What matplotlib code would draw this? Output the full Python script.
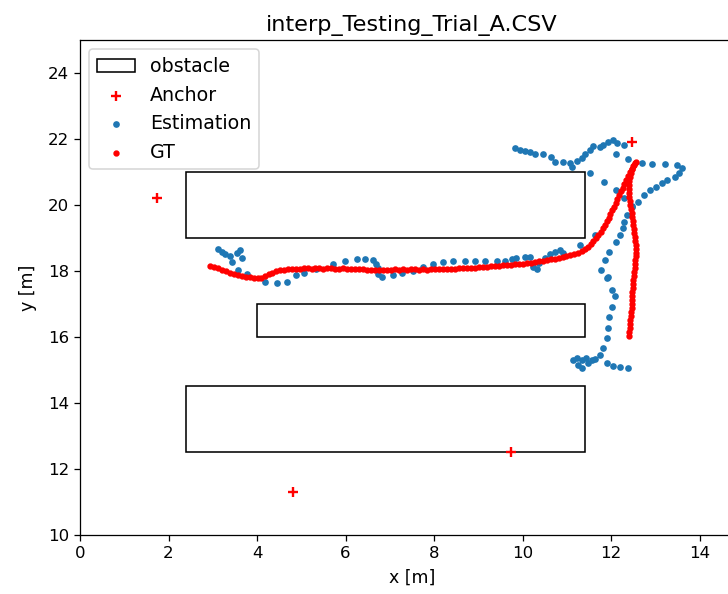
import numpy as np
import matplotlib
matplotlib.use("Agg")
import matplotlib.pyplot as plt
from matplotlib.patches import Rectangle

# obstacles: (x, y, width, height)
obstacles = [(2.4, 19.0, 9.0, 2.0),
             (4.0, 16.0, 7.4, 1.0),
             (2.4, 12.5, 9.0, 2.0)]

# anchors
anchor_x = [1.75, 12.46, 9.73, 4.81]
anchor_y = [20.22, 21.90, 12.50, 11.30]

# estimated positions
est_x = [3.12, 3.21, 3.27, 3.39, 3.54, 3.61, 3.66, 3.43, 3.57, 3.77, 4.18, 4.45, 4.67, 4.88,
         5.06, 5.33, 5.71, 5.98, 6.25, 6.43, 6.61, 6.68, 6.73, 6.73, 6.82, 7.07, 7.27, 7.52,
         7.74, 7.97, 8.19, 8.42, 8.69, 8.92, 9.14, 9.41, 9.59, 9.75, 9.86, 10.05, 10.16, 10.23,
         10.32, 10.38, 10.50, 10.61, 10.72, 10.84, 10.90, 11.29, 11.63, 11.85, 11.78, 11.90,
         11.96, 12.10, 12.19, 12.26, 12.30, 12.35, 12.46, 12.60, 12.75, 12.87, 13.02, 13.14,
         13.27, 13.43, 13.54, 13.59, 13.48, 13.21, 12.93, 12.69, 12.37, 12.10, 11.92, 12.03,
         12.14, 12.30, 11.81, 11.74, 11.58, 11.51, 11.40, 11.33, 11.22, 11.11, 11.06, 10.90,
         10.72, 10.65, 10.45, 10.27, 10.16, 10.05, 9.93, 9.82, 11.51, 11.83, 12.10, 12.30,
         12.48, 11.92, 12.01, 12.08, 12.01, 11.96, 11.92, 11.90, 11.81, 11.74, 11.63, 11.56,
         11.44, 11.33, 11.22, 11.13, 11.24, 11.35, 11.47, 11.90, 12.03, 12.19, 12.37]
est_y = [18.67, 18.58, 18.52, 18.45, 18.55, 18.64, 18.39, 18.27, 18.03, 17.91, 17.67, 17.64, 17.67, 17.88,
         17.94, 18.06, 18.21, 18.30, 18.36, 18.36, 18.33, 18.21, 18.09, 17.91, 17.82, 17.88, 17.94, 18.00,
         18.12, 18.21, 18.27, 18.30, 18.30, 18.30, 18.30, 18.30, 18.30, 18.36, 18.39, 18.42, 18.42, 18.12,
         18.06, 18.24, 18.39, 18.52, 18.58, 18.64, 18.55, 18.79, 19.09, 18.33, 18.03, 17.79,
         18.58, 18.88, 19.09, 19.30, 19.48, 19.70, 19.94, 20.09, 20.30, 20.45, 20.55, 20.67,
         20.76, 20.85, 20.97, 21.12, 21.21, 21.24, 21.24, 21.27, 21.39, 21.55, 21.91, 21.97,
         21.88, 21.82, 21.82, 21.76, 21.79, 21.67, 21.55, 21.42, 21.33, 21.15, 21.27, 21.30,
         21.30, 21.45, 21.55, 21.55, 21.61, 21.64, 21.67, 21.73, 20.97, 20.70, 20.45, 20.21,
         19.97, 17.82, 17.42, 17.24, 16.91, 16.61, 16.27, 15.97, 15.67, 15.45, 15.33, 15.30,
         15.36, 15.30, 15.36, 15.30, 15.15, 15.06, 15.21, 15.21, 15.12, 15.09, 15.06]

# ground truth
gt_x = [2.93, 3.02, 3.11, 3.20, 3.29, 3.38, 3.47, 3.56, 3.65, 3.74, 3.83, 3.92, 4.01, 4.10,
        4.18, 4.26, 4.34, 4.42, 4.51, 4.60, 4.69, 4.78, 4.87, 4.96, 5.05, 5.14, 5.23, 5.32,
        5.41, 5.50, 5.59, 5.68, 5.77, 5.86, 5.95, 6.04, 6.13, 6.22, 6.31, 6.40, 6.49, 6.58,
        6.67, 6.76, 6.85, 6.94, 7.03, 7.12, 7.21, 7.30, 7.39, 7.48, 7.57, 7.66, 7.75, 7.84,
        7.93, 8.02, 8.11, 8.20, 8.29, 8.38, 8.47, 8.56, 8.65, 8.74, 8.83, 8.92, 9.01, 9.10,
        9.19, 9.28, 9.37, 9.46, 9.55, 9.64, 9.73, 9.82, 9.91, 10.00, 10.09, 10.18, 10.27,
        10.36, 10.45, 10.54, 10.63, 10.72, 10.81, 10.90, 10.99, 11.08, 11.17, 11.25, 11.33,
        11.40, 11.47, 11.54, 11.60, 11.66, 11.71, 11.76, 11.81, 11.85, 11.90, 11.94, 11.98,
        12.02, 12.06, 12.10, 12.14, 12.18, 12.22, 12.26, 12.30, 12.34, 12.38, 12.42, 12.46,
        12.50, 12.54, 12.57,
        12.52, 12.48, 12.45, 12.43, 12.41, 12.40, 12.40, 12.40, 12.41, 12.42, 12.43, 12.44,
        12.46, 12.47, 12.49, 12.50, 12.51, 12.52, 12.53, 12.54, 12.55, 12.55, 12.55, 12.55,
        12.54, 12.54, 12.53, 12.52, 12.51, 12.50, 12.49, 12.49, 12.48, 12.48, 12.47, 12.46,
        12.46, 12.45, 12.44, 12.43, 12.42, 12.42, 12.41, 12.40]
gt_y = [18.15, 18.12, 18.08, 18.03, 17.99, 17.95, 17.92, 17.89, 17.86, 17.83, 17.81, 17.79, 17.78, 17.79,
        17.84, 17.90, 17.95, 17.99, 18.02, 18.04, 18.06, 18.06, 18.07, 18.07, 18.08, 18.08, 18.07, 18.08,
        18.08, 18.07, 18.08, 18.08, 18.07, 18.07, 18.08, 18.07, 18.06, 18.07, 18.06, 18.06, 18.04, 18.04,
        18.03, 18.04, 18.04, 18.03, 18.04, 18.05, 18.04, 18.05, 18.04, 18.05, 18.05, 18.04, 18.05, 18.04,
        18.05, 18.05, 18.06, 18.05, 18.06, 18.06, 18.07, 18.08, 18.08, 18.09, 18.09, 18.10, 18.11, 18.12,
        18.13, 18.14, 18.15, 18.16, 18.17, 18.18, 18.19, 18.20, 18.21, 18.22, 18.23, 18.25, 18.27,
        18.29, 18.31, 18.33, 18.35, 18.37, 18.40, 18.42, 18.45, 18.48, 18.51, 18.56, 18.61,
        18.67, 18.74, 18.82, 18.90, 18.99, 19.08, 19.18, 19.29, 19.40, 19.51, 19.62, 19.73,
        19.84, 19.95, 20.06, 20.17, 20.29, 20.41, 20.53, 20.65, 20.77, 20.89, 21.00, 21.10,
        21.19, 21.26, 21.30,
        21.20, 21.08, 20.96, 20.84, 20.72, 20.60, 20.48, 20.36, 20.24, 20.12, 20.00, 19.88,
        19.76, 19.64, 19.52, 19.40, 19.28, 19.16, 19.04, 18.92, 18.80, 18.68, 18.56, 18.44,
        18.32, 18.20, 18.08, 17.96, 17.84, 17.72, 17.60, 17.48, 17.36, 17.24, 17.12, 17.00,
        16.88, 16.76, 16.64, 16.52, 16.40, 16.28, 16.16, 16.04]

fig = plt.figure(figsize=(6.4, 5.222), dpi=113.75)
ax = fig.add_axes([80 / 728, 59 / 594, 664 / 728, 495 / 594])

for i, (x0, y0, w, h) in enumerate(obstacles):
    ax.add_patch(Rectangle((x0, y0), w, h, fill=False, edgecolor='black',
                           linewidth=1.0, label='obstacle' if i == 0 else None))

ax.scatter(anchor_x, anchor_y, marker='+', color='red', label='Anchor')
ax.scatter(est_x, est_y, marker='.', s=42, color='#1f77b4', label='Estimation')
ax.scatter(gt_x, gt_y, marker='.', s=36, color='red', label='GT')

ax.set_xlim(0, 15)
ax.set_ylim(10, 25)
ax.set_xticks(np.arange(0, 15, 2))
ax.set_yticks(np.arange(10, 25, 2))
ax.tick_params(labelsize=10.5)
ax.set_xlabel('x [m]', fontsize=11, labelpad=5)
ax.set_ylabel('y [m]', fontsize=11, labelpad=7)
ax.set_title('interp_Testing_Trial_A.CSV', fontsize=14.2)
ax.legend(loc='upper left', fontsize=12)

fig.savefig('out.png', dpi=113.75)
